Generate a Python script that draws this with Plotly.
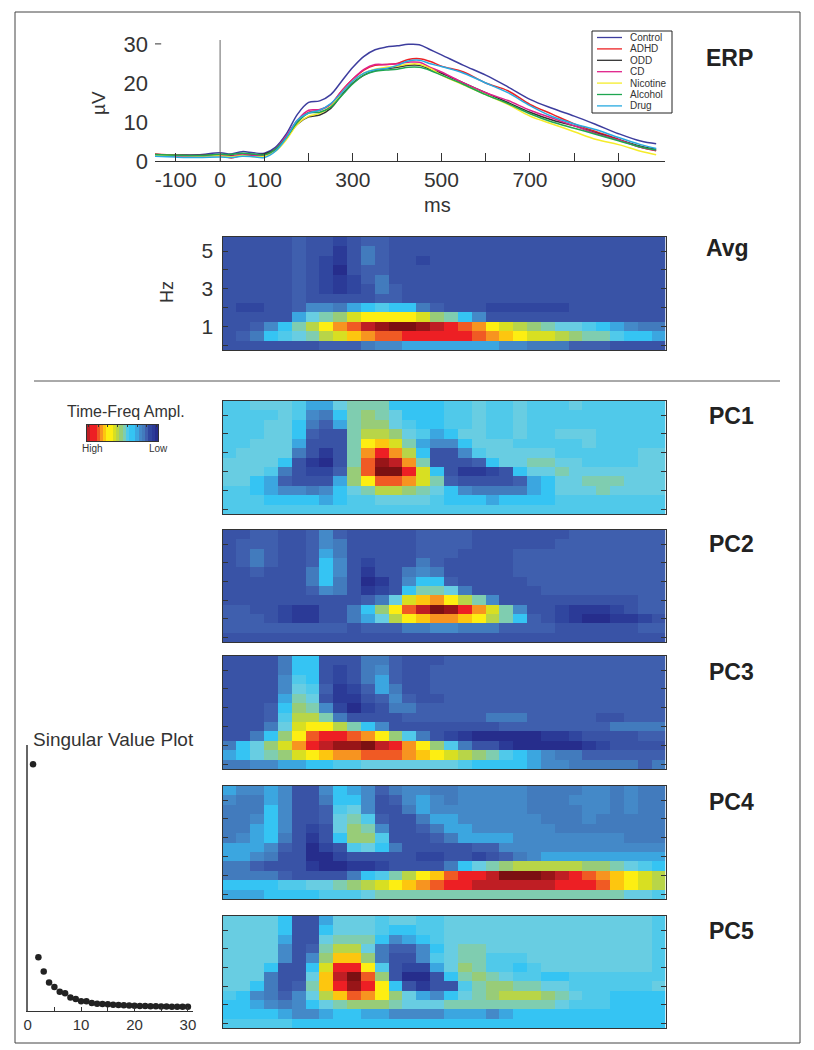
import plotly.graph_objects as go

W, H = 814, 1050

# ERP curves
erp_ms = [-150, -100, -50, 0, 25, 50, 75, 100, 125, 150, 175, 200, 225, 250, 275, 300, 325, 350, 375, 400, 425, 450, 475, 500, 550, 600, 650, 700, 750, 800, 850, 900, 950, 985]
control = [1.7, 1.6, 1.6, 2.1, 1.8, 2.4, 2.1, 2.0, 3.5, 7, 12, 15, 15.4, 17, 20.5, 24, 26.8, 28.5, 29.2, 29.5, 29.9, 29.8, 28.5, 27.2, 24.5, 22, 19, 15.8, 13.5, 11.5, 9.3, 7.0, 5.1, 4.4]
adhd = [1.8, 1.5, 1.4, 1.5, 0.8, 1.5, 1.3, 1.5, 3, 6, 10, 12.5, 13, 14.5, 18, 21, 23.3, 24.5, 24.7, 25, 26, 26.2, 25.5, 24.3, 22.8, 20, 18, 14.5, 12, 9.5, 7.5, 5.6, 3.5, 2.6]
odd = [1.6, 1.4, 1.4, 1.5, 1.4, 1.6, 1.6, 1.8, 3, 6, 9.5, 11.3, 11.8, 13.5, 17, 20, 22, 23.2, 23.6, 24, 24.5, 24.5, 23.5, 22.5, 20, 17.5, 15, 12.5, 10.5, 9, 7.2, 5.4, 3.8, 3]
cd = [1.5, 1.2, 1.2, 1.4, 1.2, 1.7, 1.5, 1.4, 3, 6.5, 10.5, 13, 13.2, 14.5, 18, 21, 23.5, 24.7, 24.7, 24.9, 25.3, 25.3, 24, 22.8, 20, 17.5, 15.5, 13, 11, 9, 7, 5.4, 3.5, 2.7]
nicotine = [1.5, 1.4, 1.3, 1.3, 1.1, 1.4, 1.1, 1.2, 2.5, 5.5, 9.5, 11.5, 12.2, 14, 17.5, 20.5, 22.5, 23.5, 24, 24.3, 24.8, 24.8, 23.7, 22, 19.5, 17, 14.5, 11.5, 9.5, 7.5, 5.5, 4.2, 2.5, 1.6]
alcohol = [1.7, 1.5, 1.4, 1.7, 1.7, 2, 1.8, 1.6, 3, 6, 10, 12.3, 12.5, 13.8, 16.8, 19.8, 22, 23, 23.3, 23.5, 24, 24, 23.2, 22, 19.6, 17, 14.7, 12.1, 10, 8.4, 6.8, 5.2, 3.6, 2.8]
drug = [1.2, 1, 0.9, 1, 0.9, 1.2, 1.1, 0.9, 2.5, 6, 10.5, 12.3, 13, 14.7, 17.5, 20.5, 22.5, 23.4, 23.7, 24.5, 25.6, 25.8, 24.9, 24.2, 22.5, 20, 17.5, 14.2, 11.4, 9.5, 8, 6, 4.2, 3.2]

group_names = ["Control", "ADHD", "ODD", "CD", "Nicotine", "Alcohol", "Drug"]
group_colors = ["#3d3d9e", "#ed2224", "#333333", "#e0218a", "#f5ec2a", "#1fa650", "#27aae1"]
group_values = [control, adhd, odd, cd, nicotine, alcohol, drug]

# singular values
sv_index = list(range(1, 31))
sv_values = [100, 21.8, 16, 11.6, 9.7, 7.8, 7.2, 5.5, 4.9, 4, 4, 3.2, 2.9, 2.8, 2.7, 2.5, 2.4, 2.3, 2.2, 2.1, 2.0, 2, 1.9, 1.9, 1.8, 1.8, 1.7, 1.7, 1.7, 1.7]

# heat levels go 0 (low) to 22 (high), rows listed top to bottom
time_bins = list(range(32))
freqs = [5.5, 5, 4.5, 4, 3.5, 3, 2.5, 2, 1.5, 1, 0.5, 0]
level_colors = ["#262d8c", "#2b3a97", "#30469f", "#3953a6", "#3f5fae", "#427bbd", "#4489c8", "#3ba6e0",
                "#35c4f3", "#50c9ea", "#68cde2", "#7fcdb0", "#98cc78", "#b8d548", "#d8df22", "#fdee12",
                "#fdc60f", "#f79420", "#f05a24", "#ed1f24", "#bf1e24", "#981518", "#7c1012"]
legend_levels = [20, 19, 19, 18, 17, 16, 15, 15, 14, 13, 12, 11, 9, 8, 8, 7, 6, 5, 4, 2, 1, 0]

avg = [
    [3,3,3,3,3,4,3,3, 2,3,4,4,3,3,3,3, 3,3,3,3,3,3,3,3, 3,3,3,3,3,3,3,3],
    [3,3,3,3,3,4,3,3, 1,3,5,4,3,3,3,3, 3,3,3,3,3,3,3,3, 3,3,3,3,3,3,3,3],
    [3,3,3,3,3,4,3,2, 1,3,5,4,3,3,2,3, 3,3,3,3,3,3,3,3, 3,3,3,3,3,3,3,3],
    [3,3,3,3,3,4,3,2, 0,3,4,4,3,3,3,3, 3,3,3,3,3,3,3,3, 3,3,3,3,3,3,3,3],
    [3,3,3,3,3,4,3,2, 1,2,4,5,3,3,3,3, 3,3,3,3,3,3,3,3, 3,3,3,3,3,3,3,3],
    [3,3,3,3,3,4,3,2, 1,2,3,5,4,3,3,3, 3,3,3,3,3,3,3,3, 3,3,3,3,3,3,3,3],
    [3,3,3,3,3,4,3,3, 3,3,3,4,4,3,3,3, 3,3,3,3,3,3,3,3, 3,3,3,3,3,3,3,3],
    [3,2,2,3,3,4,6,6, 5,7,8,9,8,8,5,4, 3,3,3,2,2,2,2,2, 2,3,3,3,3,3,3,3],
    [3,3,3,3,3,7,10,11, 12,14,15,15,15,15,14,12, 11,8,6,3,3,3,3,3, 3,3,3,3,3,3,3,3],
    [3,3,4,6,8,11,13,15, 17,18,20,21,22,22,21,20, 19,18,17,15,14,13,12,11, 10,10,9,8,7,6,5,5],
    [3,4,5,8,9,10,11,13, 14,16,17,18,18,19,19,19, 19,19,18,17,16,15,14,14, 13,12,11,11,9,8,8,7],
    [3,3,3,3,3,3,3,4, 4,4,5,6,6,7,7,7, 7,7,7,7,6,6,5,5, 5,4,4,4,3,3,3,3],
]
pc1 = [
    [9,9,10,10,10,9,7,7, 10,11,11,11,8,8,8,8, 9,9,10,9,9,10,9,9, 9,10,9,9,9,9,9,9],
    [9,9,9,9,10,9,6,5, 8,11,12,11,10,8,8,8, 9,9,10,9,9,10,9,9, 9,9,9,9,9,9,9,9],
    [9,9,9,10,10,8,5,4, 7,11,12,12,10,9,8,8, 9,9,10,9,9,10,9,9, 9,9,9,9,9,9,9,9],
    [9,9,9,10,10,8,4,3, 3,11,13,13,12,10,9,7, 8,10,10,9,9,10,9,9, 10,10,10,9,9,9,9,9],
    [9,9,10,10,10,7,3,3, 3,11,15,16,14,11,7,6, 6,8,10,10,10,9,9,9, 9,9,10,9,9,9,9,9],
    [9,10,10,10,10,5,3,1, 3,11,17,19,17,13,8,3, 3,6,9,10,10,10,10,10, 9,9,9,9,9,9,10,10],
    [10,10,10,10,8,3,1,0, 3,11,18,21,20,17,11,3, 3,3,4,8,10,10,11,11, 10,10,9,9,9,9,10,10],
    [10,10,10,9,5,3,2,2, 4,12,18,22,22,19,14,8, 3,1,1,2,3,8,10,10, 11,10,10,10,10,10,10,10],
    [10,10,8,7,4,3,3,3, 7,12,15,18,18,17,14,11, 4,3,3,3,3,4,7,8, 10,10,11,11,11,10,10,10],
    [9,9,8,7,6,6,5,6, 8,10,11,13,13,12,11,10, 8,6,5,5,5,5,7,8, 10,10,10,11,10,10,10,10],
    [9,9,9,8,8,8,8,7, 8,9,9,10,10,10,10,9, 8,8,8,7,8,8,8,8, 9,9,9,9,9,9,9,9],
    [9,9,9,9,9,9,9,9, 9,9,9,9,9,9,9,9, 9,9,9,9,9,9,9,9, 9,9,9,9,9,9,9,9],
]
pc2 = [
    [3,3,4,4,3,3,4,6, 4,3,3,3,3,3,4,4, 4,4,3,3,3,3,3,3, 3,4,4,4,4,4,4,4],
    [3,4,4,4,3,3,4,6, 5,3,3,3,3,3,4,4, 4,4,3,3,3,3,3,3, 4,4,4,4,4,4,4,4],
    [3,4,5,4,3,3,4,7, 5,3,3,3,3,3,4,4, 4,3,3,3,3,4,4,4, 4,4,4,4,4,4,4,4],
    [3,4,5,4,3,3,4,8, 6,3,2,3,3,3,5,4, 3,3,3,3,3,4,4,4, 4,4,4,4,4,4,4,4],
    [3,3,4,3,3,3,5,8, 6,3,1,3,3,5,6,5, 3,3,3,3,3,4,4,4, 4,4,4,4,4,4,4,4],
    [3,3,3,3,3,3,5,8, 5,3,0,1,3,6,8,8, 4,3,3,3,3,3,4,4, 4,4,4,4,4,4,4,4],
    [3,3,3,3,3,3,4,6, 5,3,1,2,3,8,11,11, 10,5,3,3,3,3,3,4, 4,4,4,4,4,4,4,4],
    [3,3,3,3,3,3,3,3, 3,3,4,5,10,14,16,17, 15,13,11,6,3,3,3,3, 3,3,3,3,3,3,4,4],
    [4,4,3,3,2,1,1,3, 3,5,8,12,15,18,20,22, 21,19,17,14,11,6,3,3, 2,1,1,1,2,3,4,4],
    [4,4,4,3,2,1,1,3, 3,5,7,10,13,15,16,17, 17,16,15,13,11,8,4,3, 2,1,0,0,1,1,2,3],
    [4,4,4,4,4,4,4,4, 4,3,4,4,4,5,5,6, 6,5,5,5,4,4,4,4, 3,3,3,3,3,3,4,4],
    [3,3,3,3,3,3,3,3, 3,3,3,3,3,3,3,3, 3,3,3,3,3,3,3,3, 3,3,3,3,3,3,3,3],
]
pc3 = [
    [3,3,3,3,5,8,8,3, 3,3,5,5,4,3,3,3, 4,4,4,4,4,4,4,4, 4,4,4,4,4,4,4,4],
    [3,3,3,3,5,8,8,3, 2,3,5,6,4,3,3,4, 4,4,4,4,4,4,4,4, 4,4,4,4,4,4,4,4],
    [3,3,3,3,6,9,8,3, 2,3,5,7,4,3,3,4, 4,4,4,4,4,4,4,4, 4,4,4,4,4,4,4,4],
    [3,3,3,3,6,10,9,4, 1,2,4,7,5,3,3,4, 4,4,4,4,4,4,4,4, 4,4,4,4,4,4,4,4],
    [3,3,3,3,7,11,10,3, 1,1,3,4,6,4,3,3, 4,4,4,4,4,4,4,4, 4,4,4,4,4,4,4,4],
    [3,3,3,4,8,12,11,6, 2,0,2,3,5,5,4,4, 4,4,4,4,4,4,4,4, 4,4,4,4,4,4,4,4],
    [3,3,3,4,9,13,13,11, 5,3,3,3,3,4,4,4, 4,4,4,5,5,5,4,4, 4,4,4,3,3,4,4,4],
    [3,3,3,5,10,14,15,15, 13,11,8,6,3,3,3,3, 3,3,3,3,4,4,4,4, 4,4,4,4,5,5,5,5],
    [3,3,5,8,12,15,18,19, 19,18,17,15,12,9,5,3, 2,1,0,0,0,0,0,1, 1,2,3,3,3,3,4,4],
    [5,8,10,12,14,17,19,20, 21,21,22,20,19,17,15,12, 9,5,3,3,1,0,0,0, 0,0,1,2,3,3,3,3],
    [7,8,10,11,12,14,15,16, 17,17,18,18,18,17,16,15, 14,13,12,11,9,8,7,6, 5,5,4,4,4,4,4,4],
    [5,5,6,6,7,7,8,8, 9,9,10,10,10,10,10,10, 10,9,8,8,8,8,7,6, 6,5,5,5,5,5,4,5],
]
pc4 = [
    [7,6,6,7,6,3,3,6, 8,7,6,4,5,6,6,5, 5,6,6,6,6,6,5,5, 5,5,6,6,5,6,5,5],
    [6,5,5,7,6,3,3,5, 8,8,6,3,4,6,7,6, 5,6,6,6,6,6,5,5, 5,6,6,6,5,6,5,5],
    [5,5,5,8,6,3,3,4, 9,10,6,3,3,5,7,6, 6,6,6,6,6,6,5,5, 5,5,6,6,5,6,5,5],
    [5,5,6,8,6,3,3,4, 10,11,9,4,3,3,5,7, 7,6,6,6,6,6,6,5, 5,5,6,5,5,5,5,5],
    [5,5,7,8,6,3,2,3, 10,12,11,6,3,3,4,5, 7,7,6,6,6,6,6,6, 5,5,5,5,5,5,5,5],
    [5,6,7,8,5,3,1,3, 8,12,12,9,3,3,3,4, 5,7,7,7,7,6,6,6, 6,6,6,6,6,5,5,5],
    [7,7,7,6,4,3,0,2, 3,9,10,8,5,3,3,3, 3,3,4,4,6,6,6,6, 6,6,6,6,6,6,6,6],
    [7,7,6,5,3,3,0,0, 2,3,3,3,3,3,2,2, 3,3,2,3,4,5,6,7, 7,7,7,7,7,7,7,7],
    [5,5,4,3,3,3,1,0, 0,1,1,2,3,3,3,3, 5,8,10,11,12,13,13,13, 13,13,12,12,11,10,9,8],
    [5,5,5,5,4,3,3,3, 3,5,8,9,11,13,15,16, 18,19,19,20,22,22,22,21, 20,19,18,17,16,15,14,13],
    [8,8,8,8,9,9,10,10, 11,12,13,14,15,16,17,18, 19,19,20,20,20,20,20,20, 19,19,19,18,16,15,14,13],
    [7,7,7,8,8,8,8,9, 9,9,10,11,11,11,11,11, 11,11,11,11,11,11,11,11, 11,11,11,11,11,10,10,9],
]
pc5 = [
    [10,10,10,10,8,3,3,7, 10,10,10,9,10,10,9,9, 10,10,10,10,10,10,10,10, 10,10,10,10,10,10,10,9],
    [10,10,10,10,8,3,3,8, 10,10,10,9,8,8,9,9, 10,10,10,10,10,10,10,10, 10,10,10,10,10,10,10,9],
    [10,10,10,10,7,3,3,10, 11,11,11,8,6,7,8,9, 10,10,10,10,10,10,10,10, 10,10,10,10,10,10,10,9],
    [10,10,10,10,6,3,4,11, 13,13,10,5,4,4,6,8, 10,11,11,10,10,10,10,10, 10,10,10,10,10,10,10,9],
    [10,10,10,10,6,3,6,12, 16,16,12,5,3,3,6,9, 10,11,11,9,9,9,10,10, 10,10,10,10,10,10,10,9],
    [10,10,10,8,3,3,8,14, 19,19,15,9,3,2,2,7, 10,12,11,9,9,8,9,10, 10,10,10,10,10,10,10,9],
    [10,10,10,5,3,3,10,16, 20,22,18,12,3,0,0,3, 8,11,12,11,10,9,9,8, 8,9,9,9,9,9,9,9],
    [10,10,8,5,3,4,11,16, 19,21,19,15,8,3,1,3, 3,9,11,12,12,11,11,10, 10,9,9,9,9,9,9,10],
    [9,8,6,5,4,6,10,13, 16,18,17,15,12,10,7,6, 8,10,11,12,13,13,13,12, 11,10,9,9,8,8,8,8],
    [8,8,7,6,5,6,8,10, 11,12,12,12,11,10,10,10, 11,11,11,11,11,11,11,11, 10,9,9,9,8,8,8,8],
    [8,8,8,8,7,6,6,7, 8,8,7,7,6,6,6,6, 7,7,7,6,7,8,8,8, 8,8,8,8,8,8,8,8],
    [9,9,9,9,9,8,8,8, 8,8,8,8,8,8,8,8, 8,8,8,8,8,8,8,8, 8,8,8,8,8,8,8,8],
]

colorscale = [[i / 22, c] for i, c in enumerate(level_colors)]
TEXT = "#333333"
FONT = "Liberation Sans"


def dx(left, right):
    return [left / W, right / W]


def dy(top, bottom):
    return [1 - bottom / H, 1 - top / H]


def text_at(t, x, y, size, angle=0, color=TEXT, anchor="center"):
    return dict(text=t, x=x / W, y=1 - y / H, xref="paper", yref="paper", showarrow=False, textangle=angle,
                xanchor=anchor, yanchor="middle", font=dict(family=FONT, size=size, color=color))


fig = go.Figure()

# ERP panel
for name, color, values in zip(group_names, group_colors, group_values):
    fig.add_trace(go.Scatter(x=erp_ms, y=values, name=name, mode="lines", xaxis="x", yaxis="y",
                             line=dict(color=color, width=1.5, shape="spline")))

# heat panels, name -> (data, top, bottom)
panels = [("2", avg, 237, 350), ("3", pc1, 401, 514), ("4", pc2, 530, 642),
          ("5", pc3, 656, 769), ("6", pc4, 786, 899), ("7", pc5, 916, 1028)]
layout_axes = {}
for suffix, z, top, bottom in panels:
    fig.add_trace(go.Heatmap(x=time_bins, y=freqs, z=z, zmin=0, zmax=22, colorscale=colorscale,
                             showscale=False, xaxis="x" + suffix, yaxis="y" + suffix))
    layout_axes["xaxis" + suffix] = dict(domain=dx(222.5, 665.5), anchor="y" + suffix, range=[-0.5, 31.5],
                                         showticklabels=False, ticks="", showgrid=False, zeroline=False,
                                         showline=True, mirror=True, linecolor="#333333", linewidth=1)
    layout_axes["yaxis" + suffix] = dict(domain=dy(top, bottom), anchor="x" + suffix, range=[-0.25, 5.75],
                                         tickvals=[0, 1, 2, 3, 4, 5], ticks="inside", ticklen=5, tickwidth=1,
                                         tickcolor="#333333", showticklabels=False, showgrid=False, zeroline=False,
                                         showline=True, mirror="allticks", linecolor="#333333", linewidth=1)
layout_axes["yaxis2"].update(showticklabels=True, ticktext=["", "1", "", "3", "", "5"], ticklabelstandoff=4,
                             tickfont=dict(family=FONT, size=21, color=TEXT))

# colour key
fig.add_trace(go.Heatmap(x=list(range(len(legend_levels))), y=[0], z=[legend_levels], zmin=0, zmax=22,
                         colorscale=colorscale, showscale=False, xaxis="x8", yaxis="y8"))
layout_axes["xaxis8"] = dict(domain=dx(87, 158), anchor="y8", side="top", showticklabels=False, ticks="inside", ticklen=2,
                             dtick=3, tickcolor="#333333", showgrid=False,
                             zeroline=False, showline=True, mirror=True, linecolor="#333333", linewidth=1)
layout_axes["yaxis8"] = dict(domain=dy(425, 441), anchor="x8", showticklabels=False, ticks="", showgrid=False,
                             zeroline=False, showline=True, mirror=True, linecolor="#333333", linewidth=1)

# singular value plot
fig.add_trace(go.Scatter(x=sv_index, y=sv_values, mode="markers", xaxis="x9", yaxis="y9",
                         marker=dict(color="#222222", size=6.5), showlegend=False))
layout_axes["xaxis9"] = dict(domain=dx(27.7, 192.7), anchor="y9", range=[0, 30.9], tickvals=[0, 5, 10, 15, 20, 25, 30],
                             ticktext=["0", "", "10", "", "20", "", "30"], ticks="inside", ticklen=4, tickcolor="#333333",
                             tickfont=dict(family=FONT, size=15, color=TEXT), showgrid=False,
                             zeroline=False, showline=True, linecolor="#333333", linewidth=1)
layout_axes["yaxis9"] = dict(domain=dy(745, 1011), anchor="x9", range=[0, 107.8], showticklabels=False, ticks="",
                             showgrid=False, zeroline=False, showline=True, linecolor="#666666", linewidth=1.5)

labels = [("ERP", 729, 58), ("Avg", 727, 248), ("PC1", 731, 416), ("PC2", 731, 544),
          ("PC3", 731, 672), ("PC4", 731, 802), ("PC5", 731, 931)]
annotations = [text_at("<b>%s</b>" % t, x, y, 23, color="#222222") for t, x, y in labels]
annotations += [text_at("ms", 437, 205, 20), text_at("µV", 98, 103, 19, -90), text_at("Hz", 167, 292, 18, -90),
                text_at("Time-Freq Ampl.", 126, 411, 16), text_at("High", 92, 449, 10), text_at("Low", 158, 449, 10),
                text_at("Singular Value Plot", 113, 739, 19)]

shapes = [
    dict(type="rect", xref="paper", yref="paper", x0=15 / W, x1=800 / W, y0=1 - 1043 / H, y1=1 - 12 / H,
         line=dict(color="#444444", width=1)),
    dict(type="line", xref="paper", yref="paper", x0=34 / W, x1=780 / W, y0=1 - 381 / H, y1=1 - 381 / H,
         line=dict(color="#555555", width=1)),
    dict(type="line", xref="x", yref="y", x0=0, x1=0, y0=0, y1=31, line=dict(color="#666666", width=1)),
    dict(type="line", xref="x", yref="y", x0=-147, x1=-133, y0=30, y1=30, line=dict(color="#333333", width=1)),
    dict(type="rect", xref="paper", yref="paper", x0=592 / W, x1=672 / W, y0=1 - 113 / H, y1=1 - 31 / H,
         line=dict(color="#222222", width=1), fillcolor="white"),
]
# legend drawn by hand, plotly's own entries can't get this tight
for i, (name, color) in enumerate(zip(group_names, group_colors)):
    row_y = 37.5 + 11.4 * i
    shapes.append(dict(type="line", xref="paper", yref="paper", x0=597 / W, x1=622 / W, y0=1 - row_y / H, y1=1 - row_y / H,
                       line=dict(color=color, width=1.3)))
    annotations.append(text_at(name, 628, row_y, 10, anchor="left"))

fig.update_layout(
    template="none", width=W, height=H, margin=dict(l=0, r=0, t=0, b=0), paper_bgcolor="white", plot_bgcolor="white",
    font=dict(family=FONT, color=TEXT), showlegend=False,
    xaxis=dict(domain=dx(155, 665), anchor="y", range=[-147, 1005], tickvals=list(range(-100, 1000, 100)),
               ticktext=["-100", "0", "100", "", "300", "", "500", "", "700", "", "900"], ticks="inside", ticklen=8,
               tickcolor="#333333", tickfont=dict(family=FONT, size=21, color=TEXT), showgrid=False, zeroline=False,
               showline=True, linecolor="#333333", linewidth=1),
    yaxis=dict(domain=dy(40, 161), anchor="x", range=[0, 31], tickvals=[0, 10, 20, 30], ticks="", ticklabelstandoff=6,
               tickfont=dict(family=FONT, size=22, color=TEXT), showgrid=False, zeroline=False, showline=False),
    annotations=annotations, shapes=shapes,
    **layout_axes,
)

fig.write_html("out.html", post_script="document.body.style.margin='0';", config=dict(displayModeBar=False))
